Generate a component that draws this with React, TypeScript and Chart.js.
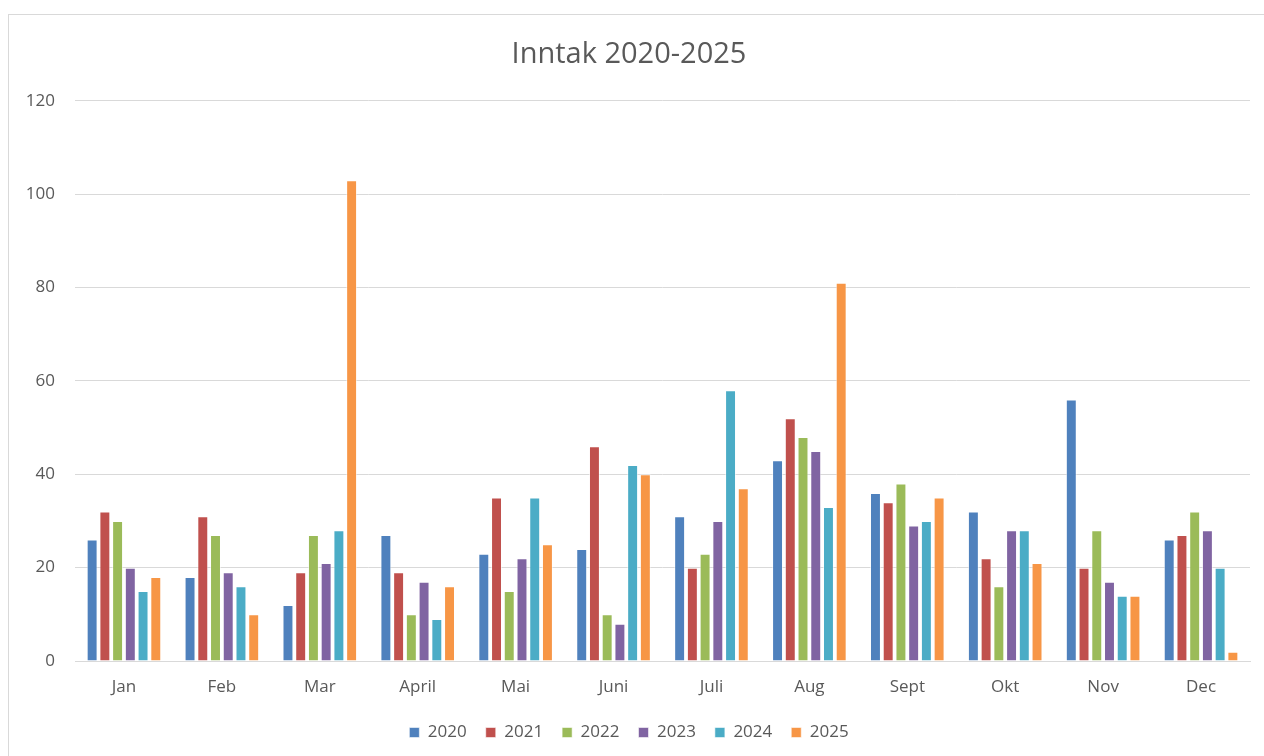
import React, { useEffect, useRef } from "react";
import { Chart, registerables } from "chart.js";

Chart.register(...registerables);

const months = ["Jan", "Feb", "Mar", "April", "Mai", "Juni", "Juli", "Aug", "Sept", "Okt", "Nov", "Dec"];
const v2020 = [26, 18, 12, 27, 23, 24, 31, 43, 36, 32, 56, 26];
const v2021 = [32, 31, 19, 19, 35, 46, 20, 52, 34, 22, 20, 27];
const v2022 = [30, 27, 27, 10, 15, 10, 23, 48, 38, 16, 28, 32];
const v2023 = [20, 19, 21, 17, 22, 8, 30, 45, 29, 28, 17, 28];
const v2024 = [15, 16, 28, 9, 35, 42, 58, 33, 30, 28, 14, 20];
const v2025 = [18, 10, 103, 16, 25, 40, 37, 81, 35, 21, 14, 2];
const seriesNames = ["2020", "2021", "2022", "2023", "2024", "2025"];
const seriesColors = ["#4F81BD", "#C0504D", "#9BBB59", "#8064A2", "#4BACC6", "#F79646"];
const yTicks = [0, 20, 40, 60, 80, 100, 120];

const FONT = "'Open Sans', sans-serif";
const TEXT = "#595959";

const frame = {
  id: "frame",
  beforeDraw(chart: any) {
    const ctx = chart.ctx;
    ctx.save();
    ctx.fillStyle = "#ffffff";
    ctx.fillRect(0, 0, chart.width, chart.height);
    ctx.strokeStyle = "#D9D9D9";
    ctx.lineWidth = 1;
    ctx.strokeRect(8.5, 14.5, chart.width + 20, chart.height + 20);
    ctx.restore();
  },
};

export default function App() {
  const ref = useRef<HTMLCanvasElement | null>(null);

  useEffect(() => {
    if (!ref.current) return;
    const all = [v2020, v2021, v2022, v2023, v2024, v2025];
    const chart = new Chart(ref.current, {
      type: "bar",
      data: {
        labels: months,
        datasets: all.map((d, i) => ({
          label: seriesNames[i],
          data: d,
          backgroundColor: seriesColors[i],
          borderColor: "rgba(255,255,255,0.55)",
          borderWidth: 1,
          categoryPercentage: 0.78,
          barPercentage: 0.86,
        })),
      },
      options: {
        responsive: false,
        animation: false,
        layout: { padding: { left: 8, right: 14, top: 21, bottom: 5 } },
        plugins: {
          title: {
            display: true,
            text: "Inntak 2020-2025",
            color: TEXT,
            font: { family: FONT, size: 29, weight: "normal" },
            padding: { top: 16, bottom: 29 },
          },
          legend: {
            position: "bottom",
            labels: {
              color: TEXT,
              font: { family: FONT, size: 17 },
              boxWidth: 10,
              boxHeight: 10,
              padding: 19,
            },
          },
          tooltip: { enabled: false },
        },
        scales: {
          x: {
            grid: { display: false, drawTicks: false },
            border: { display: true, color: "#D9D9D9" },
            ticks: { color: TEXT, font: { family: FONT, size: 17 }, padding: 16 },
            afterFit: (s: any) => {
              s.height = 44;
            },
          },
          y: {
            min: 0,
            max: 120,
            afterBuildTicks: (s: any) => {
              s.ticks = yTicks.map((v) => ({ value: v }));
            },
            grid: { color: "#D9D9D9", drawTicks: false },
            border: { display: false },
            ticks: { color: TEXT, font: { family: FONT, size: 17 }, padding: 20 },
            afterFit: (s: any) => {
              s.width = 67;
            },
          },
        },
      },
      plugins: [frame],
    });
    return () => chart.destroy();
  }, []);

  return (
    <div style={{ position: "fixed", left: 0, top: 0, width: 1264, height: 756 }}>
      <canvas ref={ref} width={1264} height={756} style={{ display: "block" }} />
    </div>
  );
}
